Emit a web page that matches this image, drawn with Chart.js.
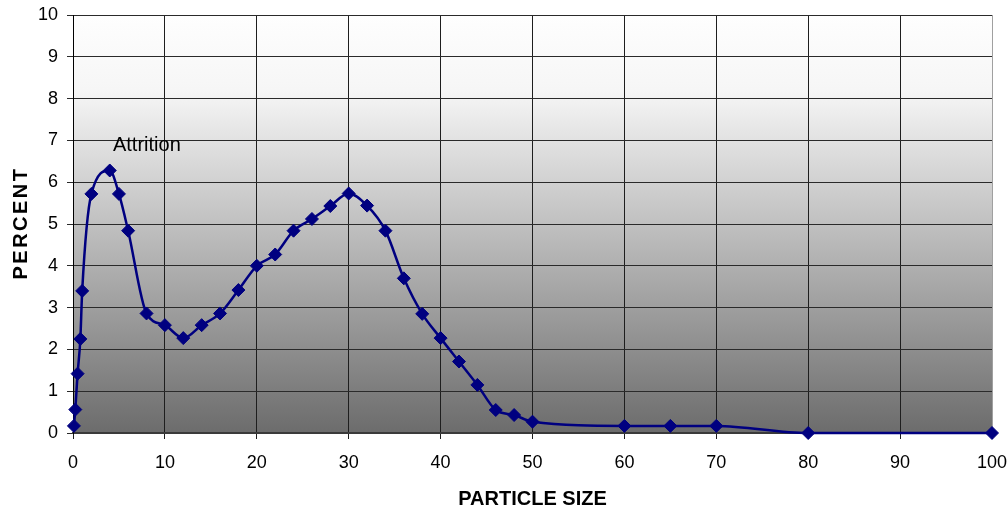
<!DOCTYPE html>
<html>
<head>
<meta charset="utf-8">
<title>Particle size distribution</title>
<script src="https://cdn.jsdelivr.net/npm/chart.js@4.4.1/dist/chart.umd.min.js"></script>
<style>
  html, body { margin: 0; padding: 0; background: #fff; }
  #sizeChart { display: block; }
</style>
</head>
<body>
<canvas id="sizeChart" width="1008" height="513"></canvas>
<script>
// particle size (x) and percent (y)
const particleSizes = [0.1, 0.25, 0.5, 0.8, 1, 2, 4, 5, 6, 8, 10, 12, 14, 16, 18, 20, 22, 24, 26, 28,
  30, 32, 34, 36, 38, 40, 42, 44, 46, 48, 50, 60, 65, 70, 80, 100];
const percentValues = [0.17, 0.56, 1.42, 2.25, 3.4, 5.72, 6.28, 5.72, 4.84, 2.86, 2.58, 2.27, 2.58, 2.86, 3.42, 4.0, 4.27, 4.84, 5.12, 5.43,
  5.73, 5.44, 4.84, 3.70, 2.85, 2.27, 1.71, 1.15, 0.55, 0.43, 0.27, 0.17, 0.17, 0.17, 0, 0];
const seriesLabel = "Attrition";
const xTitle = "PARTICLE SIZE";
const yTitle = "PERCENT";
const labelAt = [4.35, 6.74];

const FONT = "'Liberation Sans', Arial, sans-serif";

// gradient plot background, drawn before the grid
const plotBackground = {
  id: 'plotBackground',
  beforeDraw(chart) {
    const { ctx, chartArea: a } = chart;
    const g = ctx.createLinearGradient(0, a.top, 0, a.bottom);
    g.addColorStop(0, '#fefefe');
    g.addColorStop(0.18, '#f6f6f6');
    g.addColorStop(1, '#6c6c6c');
    ctx.save();
    ctx.fillStyle = g;
    ctx.fillRect(a.left, a.top, a.right - a.left, a.bottom - a.top);
    ctx.restore();
  }
};

// axis titles and the series label
const chartText = {
  id: 'chartText',
  afterDraw(chart) {
    const { ctx, chartArea: a, scales } = chart;
    ctx.save();
    ctx.fillStyle = '#000';
    ctx.font = 'bold 20px ' + FONT;
    ctx.textAlign = 'center';
    ctx.textBaseline = 'middle';
    ctx.fillText(xTitle, (a.left + a.right) / 2, 499);

    ctx.translate(21, (a.top + a.bottom) / 2);
    ctx.rotate(-Math.PI / 2);
    ctx.letterSpacing = '2.5px';
    ctx.fillText(yTitle, 1, 0);
    ctx.restore();

    ctx.save();
    ctx.fillStyle = '#000';
    ctx.font = '20px ' + FONT;
    ctx.textAlign = 'left';
    ctx.textBaseline = 'alphabetic';
    ctx.fillText(seriesLabel, scales.x.getPixelForValue(labelAt[0]), scales.y.getPixelForValue(labelAt[1]));
    ctx.restore();
  },
  // light frame on the right edge, under the line
  beforeDatasetsDraw(chart) {
    const { ctx, chartArea: a } = chart;
    ctx.save();
    ctx.strokeStyle = '#a0a0a0';
    ctx.lineWidth = 1;
    ctx.beginPath();
    ctx.moveTo(a.right + 0.5, a.top);
    ctx.lineTo(a.right + 0.5, a.bottom);
    ctx.stroke();
    ctx.restore();
  }
};

const points = particleSizes.map((x, i) => ({ x: x, y: percentValues[i] }));

new Chart(document.getElementById('sizeChart'), {
  type: 'line',
  data: {
    datasets: [{
      label: seriesLabel,
      data: points,
      borderColor: '#000080',
      backgroundColor: '#000080',
      borderWidth: 2.5,
      cubicInterpolationMode: 'monotone',
      clip: 10,
      pointStyle: 'rectRot',
      pointRadius: 6.5,
      pointBorderWidth: 1,
      pointBackgroundColor: '#000080',
      pointBorderColor: '#000080'
    }]
  },
  options: {
    responsive: false,
    animation: false,
    layout: { padding: { top: 15, right: 16, left: 0, bottom: 0 } },
    plugins: {
      legend: { display: false },
      tooltip: { enabled: false }
    },
    scales: {
      x: {
        type: 'linear',
        min: 0,
        max: 100,
        afterFit: (s) => { s.height = 80; s.paddingLeft = 0; s.paddingRight = 0; },
        ticks: {
          stepSize: 10,
          padding: 13,
          color: '#000',
          font: { family: FONT, size: 18 }
        },
        grid: { color: '#1e1e1e', lineWidth: 1, tickLength: 6 },
        border: { color: '#3a3a3a', width: 2 }
      },
      y: {
        min: 0,
        max: 10,
        afterFit: (s) => { s.width = 73; s.paddingTop = 0; s.paddingBottom = 0; },
        ticks: {
          stepSize: 1,
          padding: 9,
          color: '#000',
          font: { family: FONT, size: 18 }
        },
        grid: { color: '#2a2a2a', lineWidth: 1, tickLength: 6 },
        border: { color: '#000', width: 1 }
      }
    }
  },
  plugins: [plotBackground, chartText]
});
</script>
</body>
</html>
